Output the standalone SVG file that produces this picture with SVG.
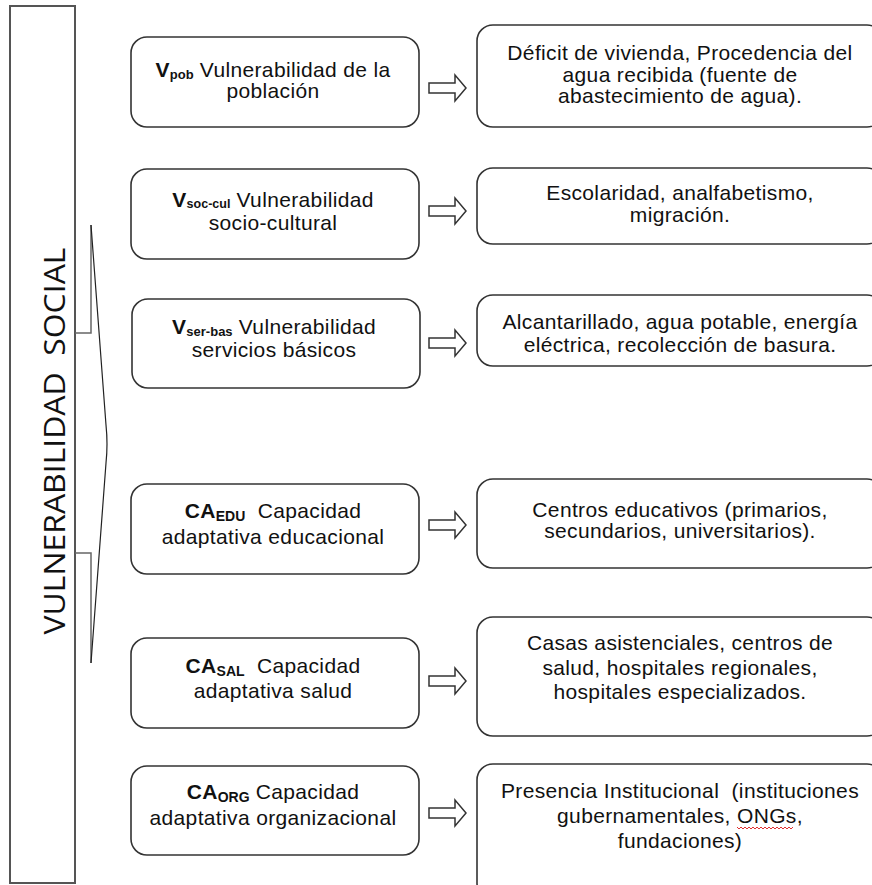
<svg xmlns="http://www.w3.org/2000/svg" width="872" height="885" viewBox="0 0 872 885">
<style>
.box{fill:#fff;stroke:#333;stroke-width:1.6}
.t{font-family:"Liberation Sans",Arial,sans-serif;font-size:21px;letter-spacing:0.35px;fill:#111;text-anchor:middle;white-space:pre}
.b{font-weight:bold}
.s{font-weight:bold;font-size:13px;letter-spacing:0}
.arr{fill:#fff;stroke:#333;stroke-width:1.5}
</style>
<defs>
<path id="ar" d="M0,-5 H26 V-13 L37,0 L26,13 V5 H0 Z"/>
</defs>
<rect width="872" height="885" fill="#fff"/>
<g id="main">
<rect x="10" y="6" width="65" height="877" fill="none" stroke="#555" stroke-width="2"/>
<polyline points="91,225 91,333 75,333" fill="none" stroke="#666" stroke-width="1.5"/>
<polyline points="75,553 91,553 91,663" fill="none" stroke="#666" stroke-width="1.5"/>
<path d="M91,225 L106,425 Q108,444 106,463 L91,663" fill="none" stroke="#222" stroke-width="1.2"/>
<text transform="translate(65,441) rotate(-90)" style="font-family:'Open Sans','DejaVu Sans',sans-serif;font-size:29px;fill:#111;text-anchor:middle;white-space:pre" textLength="387" lengthAdjust="spacingAndGlyphs">VULNERABILIDAD  SOCIAL</text>
</g>
<g id="l1"><rect class="box" x="131" y="37" width="288" height="90" rx="16"/>
<text class="t" x="273" y="77"><tspan class="b">V</tspan><tspan class="s" dy="2">pob</tspan><tspan dy="-2"> Vulnerabilidad de la</tspan></text>
<text class="t" x="273" y="98">población</text></g>
<g id="l2"><rect class="box" x="131" y="169" width="288" height="90" rx="16"/>
<text class="t" x="273" y="207"><tspan class="b">V</tspan><tspan class="s" dy="1" style="font-size:12.5px">soc-cul</tspan><tspan dy="-1"> Vulnerabilidad</tspan></text>
<text class="t" x="273" y="230">socio-cultural</text></g>
<g id="l3"><rect class="box" x="132" y="299" width="288" height="89" rx="16"/>
<text class="t" x="274" y="334"><tspan class="b">V</tspan><tspan class="s" dy="2">ser-bas</tspan><tspan dy="-2"> Vulnerabilidad</tspan></text>
<text class="t" x="274" y="357">servicios básicos</text></g>
<g id="l4"><rect class="box" x="131" y="484" width="288" height="90" rx="16"/>
<text class="t" x="273" y="518"><tspan class="b">CA</tspan><tspan class="s" dy="3" style="font-size:14px">EDU</tspan><tspan dy="-3">  Capacidad</tspan></text>
<text class="t" x="273" y="544">adaptativa educacional</text></g>
<g id="l5"><rect class="box" x="131" y="638" width="288" height="90" rx="16"/>
<text class="t" x="273" y="673"><tspan class="b">CA</tspan><tspan class="s" dy="3" style="font-size:14px">SAL</tspan><tspan dy="-3">  Capacidad</tspan></text>
<text class="t" x="273" y="698">adaptativa salud</text></g>
<g id="l6"><rect class="box" x="131" y="766" width="288" height="89" rx="16"/>
<text class="t" x="273" y="799"><tspan class="b">CA</tspan><tspan class="s" dy="3" style="font-size:14px">ORG</tspan><tspan dy="-3"> Capacidad</tspan></text>
<text class="t" x="273" y="825">adaptativa organizacional</text></g>
<g id="r1"><rect class="box" x="477" y="25" width="406" height="102" rx="16"/>
<text class="t" x="680" y="60">Déficit de vivienda, Procedencia del</text>
<text class="t" x="680" y="82">agua recibida (fuente de</text>
<text class="t" x="680" y="103">abastecimiento de agua).</text></g>
<g id="r2"><rect class="box" x="477" y="168" width="406" height="76" rx="16"/>
<text class="t" x="680" y="200">Escolaridad, analfabetismo,</text>
<text class="t" x="680" y="222">migración.</text></g>
<g id="r3"><rect class="box" x="477" y="295" width="406" height="71" rx="16"/>
<text class="t" x="680" y="329">Alcantarillado, agua potable, energía</text>
<text class="t" x="680" y="352">eléctrica, recolección de basura.</text></g>
<g id="r4"><rect class="box" x="477" y="479" width="406" height="89" rx="16"/>
<text class="t" x="680" y="517">Centros educativos (primarios,</text>
<text class="t" x="680" y="538">secundarios, universitarios).</text></g>
<g id="r5"><rect class="box" x="477" y="617" width="406" height="119" rx="16"/>
<text class="t" x="680" y="650">Casas asistenciales, centros de</text>
<text class="t" x="680" y="675">salud, hospitales regionales,</text>
<text class="t" x="680" y="699">hospitales especializados.</text></g>
<g id="r6"><rect class="box" x="477" y="764" width="406" height="135" rx="16"/>
<text class="t" x="680" y="798">Presencia Institucional  (instituciones</text>
<text class="t" x="680" y="823">gubernamentales, ONGs,</text>
<text class="t" x="680" y="848">fundaciones)</text>
<polyline points="737,827 739,829 741,827 743,829 745,827 747,829 749,827 751,829 753,827 755,829 757,827 759,829 761,827 763,829 765,827 767,829 769,827 771,829 773,827 775,829 777,827 779,829 781,827 783,829 785,827 787,829 789,827 791,829 793,827" fill="none" stroke="#e03030" stroke-width="1"/></g>
<g id="connectors">
<use href="#ar" class="arr" x="429" y="88"/>
<use href="#ar" class="arr" x="429" y="211"/>
<use href="#ar" class="arr" x="429" y="343"/>
<use href="#ar" class="arr" x="429" y="525"/>
<use href="#ar" class="arr" x="429" y="681"/>
<use href="#ar" class="arr" x="429" y="813"/>
</g>
</svg>
